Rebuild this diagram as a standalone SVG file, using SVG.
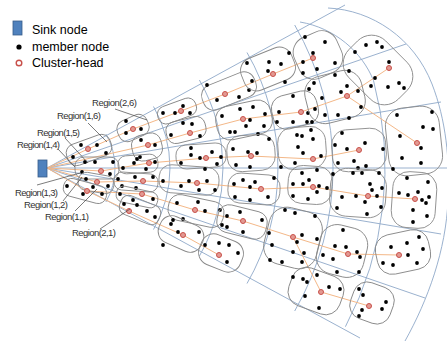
<svg xmlns="http://www.w3.org/2000/svg" width="447" height="341" viewBox="0 0 447 341">
<style>
.bl{fill:none;stroke:#8fa8c8;stroke-width:0.9}
.cl{fill:none;stroke:#8a8a8a;stroke-width:0.9}
.or{fill:none;stroke:#f4b888;stroke-width:1}
.d{fill:#000}
.h{fill:#e39a92;stroke:#c8504a;stroke-width:1}
.lb{font-family:"Liberation Sans",Arial,sans-serif;font-size:9.5px;fill:#333}
.lg{font-family:"Liberation Sans",Arial,sans-serif;font-size:12.5px;fill:#000}
.ld{stroke:#444;stroke-width:0.7;fill:none}
</style>
<rect width="447" height="341" fill="#fff"/>
<g id="grid">
<path class="bl" d="M47,168 L345,5 M47,168 L406,44 M47,168 L441,102 M47,168 L447,168 M47,168 L441,234 M47,168 L425,298 M47,168 L360,338"/>
<path class="bl" d="M105.9,134 A68,68 0 0 1 105.9,202"/>
<path class="bl" d="M153.5,106.5 A123,123 0 0 1 153.5,229.5"/>
<path class="bl" d="M199.4,80 A176,176 0 0 1 199.4,256"/>
<path class="bl" d="M247,52.5 A231,231 0 0 1 247,283.5"/>
<path class="bl" d="M294.7,25 A286,286 0 0 1 294.7,311"/>
<path class="bl" d="M300,22 C335,28 362,52 373.5,80.5 A338,338 0 0 1 345.4,326.7"/>
<path class="bl" d="M328,8 C372,10 414,38 432,84 C446,120 450,160 448,200 C446,250 428,300 405,341"/>
</g>
<g id="connectors">
<polyline class="or" points="47,168 88,149 133,129 181,111 225,94 273,74 313,58"/>
<polyline class="or" points="47,168 148,145 190,133 243,119 301,112 347,96 389,68"/>
<polyline class="or" points="347,96 417,143"/>
<polyline class="or" points="47,168 101,171 149,163 206,158 251,156 313,159 359,150"/>
<polyline class="or" points="47,168 97,182 143,181 197,183 261,189 313,187 368,196 415,199"/>
<polyline class="or" points="47,168 87,191 142,194 195,210 243,221 293,237 348,254 399,255"/>
<polyline class="or" points="293,237 321,292 369,306"/>
<polyline class="or" points="87,191 129,211 183,235 219,255"/>
</g>
<g id="sink"><rect x="38" y="160" width="9" height="17" fill="#4f81bd" stroke="#385d8a" stroke-width="0.8"/></g>

<g id="r1-6"><rect class="cl" x="-23" y="-11" width="46" height="22" rx="9" transform="translate(89,150) rotate(-20)"/>
<circle class="d" cx="81" cy="145" r="1.9"/><circle class="d" cx="97" cy="145" r="1.9"/><circle class="d" cx="106" cy="153" r="1.9"/><circle class="d" cx="73" cy="157" r="1.9"/><circle class="h" cx="88" cy="149" r="2.5"/></g>
<g id="r1-4"><rect class="cl" x="-22" y="-11" width="44" height="22" rx="9" transform="translate(97,168)"/>
<circle class="d" cx="85" cy="162" r="1.9"/><circle class="d" cx="95" cy="162" r="1.9"/><circle class="d" cx="113" cy="162" r="1.9"/><circle class="d" cx="82" cy="172" r="1.9"/><circle class="d" cx="110" cy="174" r="1.9"/><circle class="h" cx="101" cy="171" r="2.5"/></g>
<g id="r1-3"><rect class="cl" x="-18" y="-9" width="36" height="18" rx="8" transform="translate(96,183) rotate(10)"/>
<circle class="d" cx="86" cy="179" r="1.9"/><circle class="d" cx="93" cy="187" r="1.9"/><circle class="d" cx="108" cy="186" r="1.9"/><circle class="h" cx="97" cy="182" r="2.5"/></g>
<g id="r1-2"><rect class="cl" x="-22" y="-9" width="44" height="18" rx="8" transform="translate(85,191) rotate(15)"/>
<circle class="d" cx="83" cy="194" r="1.9"/><circle class="d" cx="102" cy="194" r="1.9"/><circle class="d" cx="67" cy="186" r="1.9"/><circle class="h" cx="87" cy="191" r="2.5"/></g>

<g id="r2-6"><rect class="cl" x="-16" y="-11" width="32" height="22" rx="9" transform="translate(133,128) rotate(-24)"/>
<circle class="d" cx="126" cy="121" r="1.9"/><circle class="d" cx="126" cy="133" r="1.9"/><circle class="d" cx="141" cy="129" r="1.9"/><circle class="h" cx="133" cy="129" r="2.5"/></g>
<g id="r2-5"><rect class="cl" x="-15" y="-13" width="30" height="26" rx="10" transform="translate(147,147) rotate(-14)"/>
<circle class="d" cx="155" cy="145" r="1.9"/><circle class="d" cx="140" cy="157" r="1.9"/><circle class="d" cx="141" cy="140" r="1.9"/><circle class="h" cx="148" cy="145" r="2.5"/></g>
<g id="r2-4"><rect class="cl" x="-20" y="-9" width="40" height="18" rx="8" transform="translate(138,164) rotate(-4)"/>
<circle class="d" cx="134" cy="163" r="1.9"/><circle class="d" cx="123" cy="168" r="1.9"/><circle class="d" cx="137" cy="159" r="1.9"/><circle class="d" cx="155" cy="162" r="1.9"/><circle class="d" cx="146" cy="169" r="1.9"/><circle class="h" cx="149" cy="163" r="2.5"/></g>
<g id="r2-3"><rect class="cl" x="-22" y="-9" width="44" height="18" rx="8" transform="translate(136,182) rotate(4)"/>
<circle class="d" cx="135" cy="177" r="1.9"/><circle class="d" cx="118" cy="179" r="1.9"/><circle class="d" cx="136" cy="188" r="1.9"/><circle class="d" cx="122" cy="186" r="1.9"/><circle class="d" cx="153" cy="177" r="1.9"/><circle class="h" cx="143" cy="181" r="2.5"/></g>
<g id="r2-2"><rect class="cl" x="-21" y="-8" width="42" height="16" rx="7" transform="translate(137,197) rotate(12)"/>
<circle class="d" cx="133" cy="200" r="1.9"/><circle class="d" cx="120" cy="194" r="1.9"/><circle class="d" cx="153" cy="199" r="1.9"/><circle class="h" cx="142" cy="194" r="2.5"/></g>
<g id="r2-1"><rect class="cl" x="-21" y="-10" width="42" height="20" rx="8" transform="translate(140,210) rotate(22)"/>
<circle class="d" cx="124" cy="204" r="1.9"/><circle class="d" cx="137" cy="205" r="1.9"/><circle class="d" cx="147" cy="211" r="1.9"/><circle class="d" cx="155" cy="217" r="1.9"/><circle class="h" cx="129" cy="211" r="2.5"/></g>

<g id="r3-6"><rect class="cl" x="-20" y="-9" width="40" height="18" rx="8" transform="translate(177,111) rotate(-20)"/>
<circle class="d" cx="163" cy="113" r="1.9"/><circle class="d" cx="175" cy="113" r="1.9"/><circle class="d" cx="190" cy="113" r="1.9"/><circle class="d" cx="183" cy="106" r="1.9"/><circle class="h" cx="181" cy="111" r="2.5"/></g>
<g id="r3-5"><rect class="cl" x="-20" y="-11" width="40" height="22" rx="9" transform="translate(186,130) rotate(-14)"/>
<circle class="d" cx="192" cy="124" r="1.9"/><circle class="d" cx="171" cy="135" r="1.9"/><circle class="d" cx="200" cy="136" r="1.9"/><circle class="d" cx="183" cy="123" r="1.9"/><circle class="h" cx="190" cy="133" r="2.5"/></g>
<g id="r3-4"><rect class="cl" x="-25" y="-12" width="50" height="24" rx="10" transform="translate(201,156) rotate(-4)"/>
<circle class="d" cx="191" cy="148" r="1.9"/><circle class="d" cx="191" cy="155" r="1.9"/><circle class="d" cx="212" cy="152" r="1.9"/><circle class="d" cx="217" cy="164" r="1.9"/><circle class="d" cx="181" cy="163" r="1.9"/><circle class="d" cx="221" cy="157" r="1.9"/><circle class="d" cx="200" cy="158" r="1.9"/><circle class="h" cx="206" cy="158" r="2.5"/></g>
<g id="r3-3"><rect class="cl" x="-30" y="-14" width="60" height="28" rx="12" transform="translate(189,180) rotate(4)"/>
<circle class="d" cx="163" cy="181" r="1.9"/><circle class="d" cx="189" cy="181" r="1.9"/><circle class="d" cx="207" cy="181" r="1.9"/><circle class="d" cx="181" cy="186" r="1.9"/><circle class="d" cx="199" cy="190" r="1.9"/><circle class="d" cx="215" cy="190" r="1.9"/><circle class="d" cx="205" cy="169" r="1.9"/><circle class="h" cx="197" cy="183" r="2.5"/></g>
<g id="r3-2"><rect class="cl" x="-28" y="-13" width="56" height="26" rx="11" transform="translate(196,211) rotate(12)"/>
<circle class="d" cx="177" cy="203" r="1.9"/><circle class="d" cx="198" cy="202" r="1.9"/><circle class="d" cx="205" cy="211" r="1.9"/><circle class="d" cx="220" cy="210" r="1.9"/><circle class="d" cx="173" cy="220" r="1.9"/><circle class="d" cx="183" cy="219" r="1.9"/><circle class="h" cx="195" cy="210" r="2.5"/></g>
<g id="r3-1"><rect class="cl" x="-23" y="-14" width="46" height="28" rx="12" transform="translate(181,234) rotate(24)"/>
<circle class="d" cx="171" cy="224" r="1.9"/><circle class="d" cx="178" cy="232" r="1.9"/><circle class="d" cx="199" cy="232" r="1.9"/><circle class="d" cx="163" cy="245" r="1.9"/><circle class="h" cx="183" cy="235" r="2.5"/></g>

<g id="r4-6"><rect class="cl" x="-28" y="-13" width="56" height="26" rx="11" transform="translate(229,91) rotate(-22)"/>
<circle class="d" cx="207" cy="85" r="1.9"/><circle class="d" cx="239" cy="97" r="1.9"/><circle class="d" cx="249" cy="90" r="1.9"/><circle class="d" cx="217" cy="100" r="1.9"/><circle class="d" cx="252" cy="81" r="1.9"/><circle class="h" cx="225" cy="94" r="2.5"/></g>
<g id="r4-5"><rect class="cl" x="-28" y="-17" width="56" height="34" rx="13" transform="translate(244,120) rotate(-12)"/>
<circle class="d" cx="222" cy="116" r="1.9"/><circle class="d" cx="240" cy="109" r="1.9"/><circle class="d" cx="253" cy="107" r="1.9"/><circle class="d" cx="250" cy="120" r="1.9"/><circle class="d" cx="246" cy="126" r="1.9"/><circle class="d" cx="264" cy="126" r="1.9"/><circle class="d" cx="230" cy="132" r="1.9"/><circle class="d" cx="235" cy="132" r="1.9"/><circle class="d" cx="258" cy="134" r="1.9"/><circle class="d" cx="265" cy="114" r="1.9"/><circle class="h" cx="243" cy="119" r="2.5"/></g>
<g id="r4-4"><rect class="cl" x="-24" y="-18" width="48" height="36" rx="14" transform="translate(251,153) rotate(-4)"/>
<circle class="d" cx="233" cy="149" r="1.9"/><circle class="d" cx="248" cy="152" r="1.9"/><circle class="d" cx="257" cy="153" r="1.9"/><circle class="d" cx="236" cy="165" r="1.9"/><circle class="d" cx="250" cy="167" r="1.9"/><circle class="d" cx="269" cy="139" r="1.9"/><circle class="h" cx="251" cy="156" r="2.5"/></g>
<g id="r4-3"><rect class="cl" x="-26" y="-15" width="52" height="30" rx="12" transform="translate(254,189) rotate(4)"/>
<circle class="d" cx="234" cy="184" r="1.9"/><circle class="d" cx="255" cy="182" r="1.9"/><circle class="d" cx="250" cy="187" r="1.9"/><circle class="d" cx="235" cy="197" r="1.9"/><circle class="d" cx="250" cy="200" r="1.9"/><circle class="d" cx="268" cy="197" r="1.9"/><circle class="d" cx="243" cy="180" r="1.9"/><circle class="d" cx="274" cy="178" r="1.9"/><circle class="h" cx="261" cy="189" r="2.5"/></g>
<g id="r4-2"><rect class="cl" x="-25" y="-14" width="50" height="28" rx="11" transform="translate(242,222) rotate(14)"/>
<circle class="d" cx="227" cy="216" r="1.9"/><circle class="d" cx="240" cy="212" r="1.9"/><circle class="d" cx="262" cy="220" r="1.9"/><circle class="d" cx="222" cy="225" r="1.9"/><circle class="d" cx="227" cy="227" r="1.9"/><circle class="d" cx="243" cy="232" r="1.9"/><circle class="h" cx="243" cy="221" r="2.5"/></g>
<g id="r4-1"><rect class="cl" x="-22" y="-16" width="44" height="32" rx="13" transform="translate(221,253) rotate(22)"/>
<circle class="d" cx="205" cy="245" r="1.9"/><circle class="d" cx="219" cy="243" r="1.9"/><circle class="d" cx="229" cy="245" r="1.9"/><circle class="d" cx="238" cy="253" r="1.9"/><circle class="d" cx="227" cy="262" r="1.9"/><circle class="h" cx="219" cy="255" r="2.5"/></g>

<g id="r5-6"><rect class="cl" x="-27" y="-17" width="54" height="34" rx="13" transform="translate(268,69) rotate(-22)"/>
<circle class="d" cx="247" cy="63" r="1.9"/><circle class="d" cx="269" cy="62" r="1.9"/><circle class="d" cx="281" cy="64" r="1.9"/><circle class="d" cx="268" cy="71" r="1.9"/><circle class="d" cx="285" cy="82" r="1.9"/><circle class="d" cx="289" cy="53" r="1.9"/><circle class="h" cx="273" cy="74" r="2.5"/></g>
<g id="r5-5"><rect class="cl" x="-23" y="-17" width="46" height="34" rx="13" transform="translate(295,110) rotate(-14)"/>
<circle class="d" cx="279" cy="112" r="1.9"/><circle class="d" cx="293" cy="96" r="1.9"/><circle class="d" cx="293" cy="122" r="1.9"/><circle class="d" cx="307" cy="122" r="1.9"/><circle class="d" cx="312" cy="122" r="1.9"/><circle class="d" cx="308" cy="113" r="1.9"/><circle class="d" cx="277" cy="122" r="1.9"/><circle class="h" cx="301" cy="112" r="2.5"/></g>
<g id="r5-4"><rect class="cl" x="-24" y="-21" width="48" height="42" rx="15" transform="translate(302,148) rotate(-4)"/>
<circle class="d" cx="297" cy="135" r="1.9"/><circle class="d" cx="302" cy="136" r="1.9"/><circle class="d" cx="311" cy="130" r="1.9"/><circle class="d" cx="313" cy="139" r="1.9"/><circle class="d" cx="298" cy="147" r="1.9"/><circle class="d" cx="303" cy="153" r="1.9"/><circle class="d" cx="321" cy="156" r="1.9"/><circle class="d" cx="295" cy="163" r="1.9"/><circle class="d" cx="281" cy="167" r="1.9"/><circle class="h" cx="313" cy="159" r="2.5"/></g>
<g id="r5-3"><rect class="cl" x="-22" y="-19" width="44" height="38" rx="14" transform="translate(310,185) rotate(4)"/>
<circle class="d" cx="302" cy="173" r="1.9"/><circle class="d" cx="317" cy="170" r="1.9"/><circle class="d" cx="293" cy="184" r="1.9"/><circle class="d" cx="303" cy="184" r="1.9"/><circle class="d" cx="309" cy="180" r="1.9"/><circle class="d" cx="319" cy="186" r="1.9"/><circle class="d" cx="327" cy="188" r="1.9"/><circle class="d" cx="317" cy="192" r="1.9"/><circle class="d" cx="293" cy="196" r="1.9"/><circle class="d" cx="308" cy="199" r="1.9"/><circle class="h" cx="313" cy="187" r="2.5"/></g>
<g id="r5-2"><rect class="cl" x="-27" y="-29" width="54" height="58" rx="18" transform="translate(293,238) rotate(14)"/>
<circle class="d" cx="269" cy="233" r="1.9"/><circle class="d" cx="297" cy="242" r="1.9"/><circle class="d" cx="272" cy="245" r="1.9"/><circle class="d" cx="293" cy="252" r="1.9"/><circle class="d" cx="270" cy="260" r="1.9"/><circle class="d" cx="282" cy="262" r="1.9"/><circle class="d" cx="302" cy="235" r="1.9"/><circle class="d" cx="317" cy="239" r="1.9"/><circle class="d" cx="304" cy="253" r="1.9"/><circle class="d" cx="302" cy="262" r="1.9"/><circle class="d" cx="295" cy="213" r="1.9"/><circle class="d" cx="315" cy="216" r="1.9"/><circle class="d" cx="285" cy="210" r="1.9"/><circle class="h" cx="293" cy="237" r="2.5"/></g>
<g id="r5-1"><rect class="cl" x="-27" y="-20" width="54" height="40" rx="15" transform="translate(316,291) rotate(20)"/>
<circle class="d" cx="293" cy="277" r="1.9"/><circle class="d" cx="303" cy="279" r="1.9"/><circle class="d" cx="307" cy="282" r="1.9"/><circle class="d" cx="317" cy="275" r="1.9"/><circle class="d" cx="329" cy="287" r="1.9"/><circle class="d" cx="340" cy="289" r="1.9"/><circle class="d" cx="305" cy="296" r="1.9"/><circle class="d" cx="319" cy="308" r="1.9"/><circle class="h" cx="321" cy="292" r="2.5"/></g>

<g id="r6-6"><rect class="cl" x="-23" y="-22" width="46" height="44" rx="16" transform="translate(318,55) rotate(-24)"/>
<circle class="d" cx="305" cy="37" r="1.9"/><circle class="d" cx="325" cy="42" r="1.9"/><circle class="d" cx="313" cy="53" r="1.9"/><circle class="d" cx="303" cy="62" r="1.9"/><circle class="d" cx="335" cy="63" r="1.9"/><circle class="d" cx="317" cy="69" r="1.9"/><circle class="d" cx="303" cy="73" r="1.9"/><circle class="h" cx="313" cy="58" r="2.5"/></g>
<g id="r6-5"><rect class="cl" x="-29" y="-24" width="58" height="48" rx="17" transform="translate(335,97) rotate(-14)"/>
<circle class="d" cx="314" cy="83" r="1.9"/><circle class="d" cx="309" cy="89" r="1.9"/><circle class="d" cx="341" cy="92" r="1.9"/><circle class="d" cx="347" cy="86" r="1.9"/><circle class="d" cx="358" cy="91" r="1.9"/><circle class="d" cx="322" cy="98" r="1.9"/><circle class="d" cx="361" cy="107" r="1.9"/><circle class="d" cx="338" cy="115" r="1.9"/><circle class="d" cx="349" cy="118" r="1.9"/><circle class="d" cx="325" cy="115" r="1.9"/><circle class="d" cx="335" cy="75" r="1.9"/><circle class="d" cx="315" cy="109" r="1.9"/><circle class="h" cx="347" cy="96" r="2.5"/></g>
<g id="r6-4"><rect class="cl" x="-27" y="-21" width="54" height="42" rx="15" transform="translate(359,150) rotate(-4)"/>
<circle class="d" cx="342" cy="133" r="1.9"/><circle class="d" cx="365" cy="143" r="1.9"/><circle class="d" cx="347" cy="149" r="1.9"/><circle class="d" cx="383" cy="149" r="1.9"/><circle class="d" cx="338" cy="163" r="1.9"/><circle class="d" cx="354" cy="161" r="1.9"/><circle class="d" cx="358" cy="168" r="1.9"/><circle class="d" cx="366" cy="166" r="1.9"/><circle class="d" cx="335" cy="145" r="1.9"/><circle class="h" cx="359" cy="150" r="2.5"/></g>
<g id="r6-3"><rect class="cl" x="-28" y="-24" width="56" height="48" rx="17" transform="translate(358,193) rotate(4)"/>
<circle class="d" cx="333" cy="174" r="1.9"/><circle class="d" cx="353" cy="173" r="1.9"/><circle class="d" cx="362" cy="173" r="1.9"/><circle class="d" cx="379" cy="173" r="1.9"/><circle class="d" cx="370" cy="184" r="1.9"/><circle class="d" cx="382" cy="188" r="1.9"/><circle class="d" cx="372" cy="190" r="1.9"/><circle class="d" cx="356" cy="196" r="1.9"/><circle class="d" cx="377" cy="196" r="1.9"/><circle class="d" cx="342" cy="197" r="1.9"/><circle class="d" cx="365" cy="202" r="1.9"/><circle class="d" cx="381" cy="207" r="1.9"/><circle class="d" cx="337" cy="208" r="1.9"/><circle class="d" cx="367" cy="214" r="1.9"/><circle class="h" cx="368" cy="196" r="2.5"/></g>
<g id="r6-2"><rect class="cl" x="-24" y="-25" width="48" height="50" rx="17" transform="translate(342,251) rotate(14)"/>
<circle class="d" cx="343" cy="230" r="1.9"/><circle class="d" cx="335" cy="246" r="1.9"/><circle class="d" cx="346" cy="247" r="1.9"/><circle class="d" cx="323" cy="255" r="1.9"/><circle class="d" cx="333" cy="259" r="1.9"/><circle class="d" cx="357" cy="252" r="1.9"/><circle class="d" cx="360" cy="257" r="1.9"/><circle class="d" cx="337" cy="272" r="1.9"/><circle class="d" cx="359" cy="272" r="1.9"/><circle class="h" cx="348" cy="254" r="2.5"/></g>
<g id="r6-1"><rect class="cl" x="-21" y="-19" width="42" height="38" rx="14" transform="translate(372,303) rotate(20)"/>
<circle class="d" cx="359" cy="289" r="1.9"/><circle class="d" cx="363" cy="295" r="1.9"/><circle class="d" cx="386" cy="302" r="1.9"/><circle class="d" cx="362" cy="310" r="1.9"/><circle class="d" cx="382" cy="309" r="1.9"/><circle class="d" cx="359" cy="316" r="1.9"/><circle class="h" cx="369" cy="306" r="2.5"/></g>

<g id="r7-5"><rect class="cl" x="-26" y="-35" width="52" height="70" rx="20" transform="translate(378,70) rotate(-45)"/>
<circle class="d" cx="355" cy="52" r="1.9"/><circle class="d" cx="366" cy="45" r="1.9"/><circle class="d" cx="377" cy="42" r="1.9"/><circle class="d" cx="382" cy="47" r="1.9"/><circle class="d" cx="389" cy="62" r="1.9"/><circle class="d" cx="375" cy="78" r="1.9"/><circle class="d" cx="371" cy="86" r="1.9"/><circle class="d" cx="388" cy="87" r="1.9"/><circle class="d" cx="399" cy="83" r="1.9"/><circle class="d" cx="404" cy="88" r="1.9"/><circle class="d" cx="349" cy="71" r="1.9"/><circle class="h" cx="389" cy="68" r="2.5"/></g>
<g id="r7-4"><rect class="cl" x="-27" y="-34" width="54" height="68" rx="18" transform="translate(414,141) rotate(-6)"/>
<circle class="d" cx="423" cy="127" r="1.9"/><circle class="d" cx="433" cy="129" r="1.9"/><circle class="d" cx="400" cy="136" r="1.9"/><circle class="d" cx="421" cy="148" r="1.9"/><circle class="d" cx="402" cy="158" r="1.9"/><circle class="d" cx="421" cy="163" r="1.9"/><circle class="d" cx="393" cy="169" r="1.9"/><circle class="d" cx="432" cy="112" r="1.9"/><circle class="d" cx="397" cy="115" r="1.9"/><circle class="h" cx="417" cy="143" r="2.5"/></g>
<g id="r7-3"><rect class="cl" x="-22" y="-28" width="44" height="56" rx="16" transform="translate(414,200) rotate(4)"/>
<circle class="d" cx="407" cy="178" r="1.9"/><circle class="d" cx="428" cy="182" r="1.9"/><circle class="d" cx="399" cy="193" r="1.9"/><circle class="d" cx="408" cy="195" r="1.9"/><circle class="d" cx="418" cy="192" r="1.9"/><circle class="d" cx="422" cy="200" r="1.9"/><circle class="d" cx="429" cy="197" r="1.9"/><circle class="d" cx="426" cy="203" r="1.9"/><circle class="d" cx="413" cy="210" r="1.9"/><circle class="d" cx="427" cy="216" r="1.9"/><circle class="d" cx="413" cy="222" r="1.9"/><circle class="h" cx="415" cy="199" r="2.5"/></g>
<g id="r7-2"><rect class="cl" x="-27" y="-20" width="54" height="40" rx="15" transform="translate(403,252) rotate(-12)"/>
<circle class="d" cx="391" cy="247" r="1.9"/><circle class="d" cx="407" cy="243" r="1.9"/><circle class="d" cx="419" cy="237" r="1.9"/><circle class="d" cx="423" cy="249" r="1.9"/><circle class="d" cx="408" cy="255" r="1.9"/><circle class="d" cx="383" cy="263" r="1.9"/><circle class="d" cx="393" cy="265" r="1.9"/><circle class="d" cx="417" cy="263" r="1.9"/><circle class="h" cx="399" cy="255" r="2.5"/></g>

<g id="labels">
<path class="ld" d="M115,109 L147,120 M88,123 L107,142 M65,138 L88,163 M58,149 L75,167 M37,185 L80,173 M63,201 L82,177 M75,211 L97,189 M100,229 L130,209"/>
<text class="lb" x="92" y="106" textLength="45">Region(2,6)</text>
<text class="lb" x="57" y="119" textLength="44">Region(1,6)</text>
<text class="lb" x="37" y="136" textLength="43">Region(1,5)</text>
<text class="lb" x="17" y="148" textLength="43">Region(1,4)</text>
<text class="lb" x="15" y="196" textLength="43">Region(1,3)</text>
<text class="lb" x="24" y="208" textLength="44">Region(1,2)</text>
<text class="lb" x="45" y="220" textLength="44">Region(1,1)</text>
<text class="lb" x="72" y="236" textLength="44">Region(2,1)</text>
</g>
<g id="legend">
<rect x="13" y="21" width="9" height="14" fill="#4f81bd" stroke="#385d8a" stroke-width="0.8"/>
<text class="lg" x="32" y="34">Sink node</text>
<circle cx="19" cy="47" r="2.6" fill="#000"/>
<text class="lg" x="32" y="51">member node</text>
<circle cx="19" cy="63" r="2.8" fill="#fff" stroke="#c8504a" stroke-width="1.4"/>
<text class="lg" x="32" y="67">Cluster-head</text>
</g>
</svg>
